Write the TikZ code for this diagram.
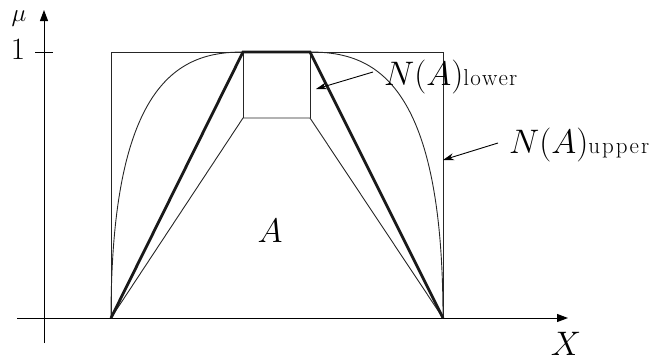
\RequirePackage{fix-cm}
\documentclass[tikz,border=0pt]{standalone}
\usetikzlibrary{arrows.meta}
\newcommand{\spaced}[1]{{\fontsize{23}{24}\selectfont #1}}
\begin{document}
\begin{tikzpicture}[x=1pt,y=-1pt,
  thin line/.style={line width=0.9pt, draw=black!85},
  thick line/.style={line width=2.8pt, draw=black!90},
  axis/.style={line width=1pt, -{Triangle[length=11pt,width=8pt]}},
  pointer/.style={line width=0.9pt, -{Stealth[length=11pt,width=7pt]}},
  lbl/.style={inner sep=0pt, font=\fontsize{34}{36}\selectfont}]
\useasboundingbox (0,0) rectangle (650,362);
% axes
\coordinate (xs) at (17,318);
\coordinate (xe) at (568,318);
\coordinate (ys) at (44,343);
\coordinate (ye) at (44,10);
\draw[axis] (xs) -- (xe);
\draw[axis] (ys) -- (ye);
\coordinate (t1) at (35,52);
\coordinate (t2) at (53,52);
\draw[line width=1pt] (t1) -- (t2);
\node[lbl, anchor=center, font=\fontsize{31}{32}\selectfont] (one) at (18,50) {$1$};
\node[lbl, anchor=base, font=\fontsize{25}{26}\selectfont] (mu) at (19,21) {$\mu$};
\node[lbl, anchor=center] (X) at (566,344) {$X$};
% key points
\coordinate (bl) at (111,318);
\coordinate (br) at (443,318);
\coordinate (tl) at (111,52);
\coordinate (tr) at (443,52);
\coordinate (pl) at (243,52);
\coordinate (pr) at (310,52);
\coordinate (ql) at (243,118);
\coordinate (qr) at (310,118);
% outer rectangle
\draw[thin line] (bl) -- (tl) -- (tr) -- (br);
% inner square and lower trapezoid
\draw[thin line] (bl) -- (ql) -- (qr) -- (br);
\draw[thin line] (pl) -- (ql);
\draw[thin line] (pr) -- (qr);
% curves
\draw[thin line] (bl) .. controls (111,78) and (182,52) .. (pl);
\draw[thin line] (br) .. controls (443,78) and (372,52) .. (pr);
% thick trapezoid
\draw[thick line, line join=miter] (bl) -- (pl) -- (pr) -- (br);
% labels
\node[lbl, anchor=center] (A) at (270,231) {$A$};
\node[lbl, anchor=base west] (NL) at (384,85) {$N(A)$\spaced{l\kern1.2pt o\kern1.2pt w\kern1.2pt e\kern1.2pt r}};
\node[lbl, anchor=base west] (NU) at (509,153) {$N(A)$\spaced{u\kern2pt p\kern2pt p\kern2pt e\kern2pt r}};
\coordinate (aL) at (373,72);
\coordinate (aLt) at (316,89);
\coordinate (aU) at (498,143);
\coordinate (aUt) at (443,160);
\draw[pointer] (aL) -- (aLt);
\draw[pointer] (aU) -- (aUt);
\end{tikzpicture}
\end{document}
